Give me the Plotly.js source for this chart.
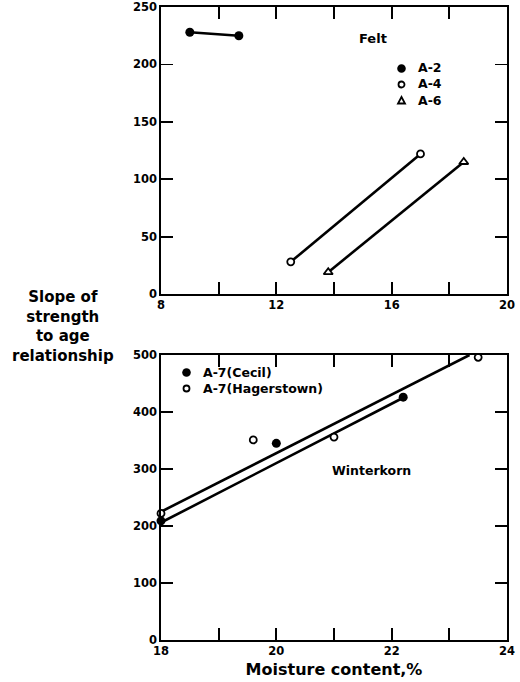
<!DOCTYPE html>
<html>
<head>
<meta charset="utf-8">
<script src="https://cdn.plot.ly/plotly-3.0.1.min.js"></script>
<style>
  html, body { margin: 0; padding: 0; background: #fff; }
  #chart { width: 520px; height: 682px; }
</style>
</head>
<body>
<div id="chart"></div>
<script>
// ---- Felt (upper panel) ----
const feltA2x = [9.0, 10.7];
const feltA2y = [228, 225];
const feltA4x = [12.5, 17.0];
const feltA4y = [28, 122];
const feltA6x = [13.8, 18.5];
const feltA6y = [19, 115];

// ---- Winterkorn (lower panel) ----
const cecilX = [18.0, 20.0, 22.2];
const cecilY = [209, 345, 426];
const hagerX = [18.0, 19.6, 21.0, 23.5];
const hagerY = [222, 351, 356, 496];

// fitted lines drawn through each Winterkorn set
const hagerFitX = [18.0, 23.35];
const hagerFitY = [225, 500];
const cecilFitX = [18.0, 22.2];
const cecilFitY = [206, 425];

// axis ticks and labels
const feltTicks = [8, 10, 12, 14, 16, 18, 20];
const feltTickText = ['8', '', '12', '', '16', '', '20'];
const feltYTicks = [0, 50, 100, 150, 200, 250];
const wintTicks = [18, 19, 20, 21, 22, 23, 24];
const wintTickText = ['18', '', '20', '', '22', '', '24'];
const wintYTicks = [0, 100, 200, 300, 400, 500];

// key entries
const feltKeys = ['A-2', 'A-4', 'A-6'];
const wintKeys = ['A-7(Cecil)', 'A-7(Hagerstown)'];

const FONT = 'DejaVu Sans';
const W = 520, H = 682;
const px = x => x / W;
const py = y => 1 - y / H;

const lineStyle = { color: '#000', width: 2.6 };
const filledDot = { symbol: 'circle', size: 9, color: '#000' };
const openDot = { symbol: 'circle', size: 7, color: '#fff', line: { color: '#000', width: 1.8 } };
const openTri = { symbol: 'triangle-up', size: 8, color: '#fff', line: { color: '#000', width: 1.8 } };

function lineTrace(x, y, xa, ya) {
  return { x: x, y: y, mode: 'lines', line: lineStyle, xaxis: xa, yaxis: ya, showlegend: false, hoverinfo: 'skip' };
}
function dotTrace(x, y, name, marker, xa, ya) {
  return { x: x, y: y, mode: 'markers', name: name, marker: marker, xaxis: xa, yaxis: ya, cliponaxis: false };
}

const traces = [
  lineTrace(feltA2x, feltA2y, 'x', 'y'),
  lineTrace(feltA4x, feltA4y, 'x', 'y'),
  lineTrace(feltA6x, feltA6y, 'x', 'y'),
  dotTrace(feltA2x, feltA2y, feltKeys[0], filledDot, 'x', 'y'),
  dotTrace(feltA4x, feltA4y, feltKeys[1], openDot, 'x', 'y'),
  dotTrace(feltA6x, feltA6y, feltKeys[2], openTri, 'x', 'y'),
  lineTrace(hagerFitX, hagerFitY, 'x2', 'y2'),
  lineTrace(cecilFitX, cecilFitY, 'x2', 'y2'),
  dotTrace(cecilX, cecilY, wintKeys[0], filledDot, 'x2', 'y2'),
  dotTrace(hagerX, hagerY, wintKeys[1], openDot, 'x2', 'y2')
];

// boxed axes with inward ticks on all four sides
function axis(extra) {
  return Object.assign({
    showline: true, linecolor: '#000', linewidth: 1.6,
    mirror: 'ticks', ticks: 'inside', ticklen: 12, tickwidth: 1.8, tickcolor: '#000',
    showgrid: false, zeroline: false, fixedrange: true,
    tickfont: { family: FONT, size: 11.5, color: '#000', weight: 'bold' }
  }, extra);
}

const txt = (s, x, y, size, anchor) => ({
  text: '<b>' + s + '</b>', x: px(x), y: py(y), xref: 'paper', yref: 'paper', showarrow: false,
  xanchor: anchor || 'center', yanchor: 'middle', align: anchor === 'left' ? 'left' : 'center',
  font: { family: FONT, size: size, color: '#000' }
});

const annotations = [
  txt('Slope of<br>strength<br>to age<br>relationship', 63, 326, 15),
  txt('Felt', 373, 39, 13),
  txt(feltKeys.join('<br>'), 416, 84, 12.5, 'left'),
  txt(wintKeys.join('<br>'), 201, 380.5, 12.5, 'left'),
  txt('Winterkorn', 371, 470, 12.5)
];

// key symbols beside the key texts
function circleKey(cx, cy, r, filled) {
  return { type: 'circle', xref: 'paper', yref: 'paper',
    x0: px(cx - r), x1: px(cx + r), y0: py(cy + r), y1: py(cy - r),
    fillcolor: filled ? '#000' : '#fff', line: { color: '#000', width: filled ? 0 : 1.8 } };
}
function triKey(cx, cy, s) {
  const p = `M ${px(cx - s)} ${py(cy + s * 0.85)} L ${px(cx + s)} ${py(cy + s * 0.85)} L ${px(cx)} ${py(cy - s)} Z`;
  return { type: 'path', xref: 'paper', yref: 'paper', path: p,
    fillcolor: '#fff', line: { color: '#000', width: 1.8 } };
}

const shapes = [
  circleKey(401.5, 68.5, 4.3, true),
  circleKey(401.5, 84.5, 3, false),
  triKey(401.5, 100.5, 3.5),
  circleKey(186.5, 372.5, 4.3, true),
  circleKey(186.5, 388.5, 3, false)
];

const layout = {
  width: W, height: H,
  margin: { l: 0, r: 0, t: 0, b: 0 },
  paper_bgcolor: '#fff', plot_bgcolor: '#fff',
  showlegend: false,
  font: { family: FONT, color: '#000' },
  xaxis: axis({
    domain: [px(161), px(507)], anchor: 'y', range: [8, 20],
    tickmode: 'array', tickvals: feltTicks, ticktext: feltTickText
  }),
  yaxis: axis({
    domain: [py(294), py(7)], anchor: 'x', range: [0, 250],
    tickmode: 'array', tickvals: feltYTicks
  }),
  xaxis2: axis({
    domain: [px(161), px(507)], anchor: 'y2', range: [18, 24],
    tickmode: 'array', tickvals: wintTicks, ticktext: wintTickText,
    title: { text: '<b>Moisture content,%</b>', standoff: 6,
      font: { family: FONT, size: 16, color: '#000' } }
  }),
  yaxis2: axis({
    domain: [py(640), py(355)], anchor: 'x2', range: [0, 500],
    tickmode: 'array', tickvals: wintYTicks
  }),
  annotations: annotations,
  shapes: shapes
};

Plotly.newPlot('chart', traces, layout, { staticPlot: true, displayModeBar: false });
</script>
</body>
</html>
